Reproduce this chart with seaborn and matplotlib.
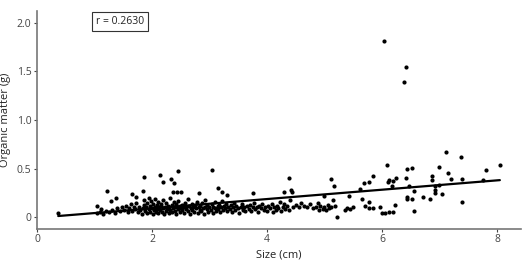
import numpy as np
import pandas as pd
import matplotlib
matplotlib.use("Agg")
import matplotlib.pyplot as plt
import seaborn as sns

# dense cluster (size in cm, organic matter in g)
size_cluster = [
    1.05, 1.10, 1.15, 1.20, 1.25, 1.30, 1.35, 1.40, 1.45, 1.48, 1.12,
    1.52, 1.55, 1.58, 1.60, 1.63, 1.65, 1.68, 1.70, 1.72, 1.75, 1.78, 1.80,
    1.82, 1.84, 1.86, 1.87, 1.88, 1.90, 1.91, 1.92, 1.94, 1.95, 1.96, 1.97, 1.98, 2.00, 2.01, 2.02, 2.03, 2.05, 2.06, 2.07, 2.08, 2.09, 2.10,
    2.11, 2.12, 2.14, 2.15, 2.16, 2.18, 2.19, 2.20, 2.21, 2.22, 2.24, 2.25, 2.26, 2.28, 2.29, 2.30, 2.31, 2.32, 2.34, 2.35, 2.36, 2.38, 2.39,
    2.40, 2.41, 2.42, 2.44, 2.45, 2.46, 2.48, 2.49, 2.50, 2.52, 2.53, 2.55, 2.56, 2.58, 2.59, 2.60, 2.62, 2.63, 2.65, 2.66, 2.68, 2.69,
    2.70, 2.72, 2.73, 2.75, 2.76, 2.78, 2.80, 2.81, 2.83, 2.84, 2.86, 2.87, 2.89, 2.90, 2.92, 2.93, 2.95, 2.96, 2.98,
    3.00, 3.02, 3.04, 3.06, 3.07, 3.09, 3.10, 3.12, 3.14, 3.15, 3.17, 3.19, 3.20, 3.22, 3.24, 3.25, 3.27, 3.29,
    3.31, 3.33, 3.35, 3.37, 3.39, 3.41, 3.43, 3.45, 3.47, 3.50, 3.52, 3.54, 3.56, 3.58, 3.60, 3.62, 3.65, 3.68,
    3.70, 3.72, 3.75, 3.77, 3.80, 3.82, 3.85, 3.87, 3.90, 3.92, 3.95, 3.97, 4.00, 4.02, 4.05, 4.08,
    4.10, 4.12, 4.15, 4.18, 4.20, 4.22, 4.25, 4.28, 4.30, 4.32, 4.35, 4.38, 4.40, 4.45, 4.50, 4.55, 4.60,
    4.65, 4.70, 4.75, 4.80, 4.85, 4.88, 4.90, 4.93, 4.97, 5.00, 5.03, 5.06, 5.08, 5.12, 5.15, 5.18, 5.35, 5.40, 5.45, 5.50,
]
om_cluster = [
    0.04, 0.05, 0.03, 0.06, 0.05, 0.07, 0.04, 0.09, 0.06, 0.11, 0.08,
    0.07, 0.12, 0.05, 0.09, 0.14, 0.06, 0.10, 0.08, 0.15, 0.05, 0.11, 0.07,
    0.03, 0.09, 0.13, 0.18, 0.06, 0.11, 0.04, 0.15, 0.08, 0.20, 0.12, 0.05, 0.17, 0.09, 0.03, 0.14, 0.07, 0.19, 0.11, 0.05, 0.13, 0.08, 0.16,
    0.04, 0.10, 0.07, 0.14, 0.12, 0.05, 0.09, 0.18, 0.03, 0.11, 0.06, 0.15, 0.08, 0.12, 0.04, 0.10, 0.20, 0.07, 0.13, 0.05, 0.09, 0.16, 0.11,
    0.06, 0.14, 0.03, 0.10, 0.08, 0.17, 0.12, 0.05, 0.09, 0.13, 0.07, 0.11, 0.04, 0.15, 0.08, 0.10, 0.06, 0.19, 0.12, 0.03, 0.09, 0.14,
    0.07, 0.11, 0.05, 0.13, 0.09, 0.16, 0.04, 0.10, 0.07, 0.12, 0.06, 0.15, 0.09, 0.03, 0.11, 0.18, 0.08, 0.13, 0.05,
    0.10, 0.07, 0.14, 0.04, 0.11, 0.09, 0.16, 0.06, 0.12, 0.08, 0.13, 0.05, 0.10, 0.17, 0.07, 0.12, 0.09, 0.14,
    0.06, 0.11, 0.08, 0.13, 0.05, 0.10, 0.15, 0.07, 0.12, 0.09, 0.04, 0.11, 0.14, 0.07, 0.10, 0.06, 0.12, 0.08,
    0.13, 0.06, 0.10, 0.15, 0.08, 0.11, 0.05, 0.12, 0.09, 0.14, 0.07, 0.10, 0.06, 0.12, 0.09, 0.14,
    0.05, 0.10, 0.07, 0.12, 0.09, 0.16, 0.06, 0.11, 0.14, 0.08, 0.12, 0.07, 0.18, 0.10, 0.13, 0.11, 0.15,
    0.12, 0.10, 0.14, 0.09, 0.11, 0.15, 0.07, 0.12, 0.08, 0.10, 0.07, 0.13, 0.09, 0.10, 0.18, 0.12, 0.07, 0.09, 0.08, 0.11,
]

# scattered points above the cluster and at the larger sizes
size_sparse = [
    0.37, 1.05, 1.22, 1.37, 1.28, 1.66, 1.73, 1.86, 1.85, 2.14, 2.19, 2.33, 2.38, 2.45, 2.36, 2.43, 2.50,
    3.05, 2.82, 3.15, 3.21, 3.30, 3.76,
    4.39, 4.41, 4.30, 4.44, 5.12, 5.17, 5.00, 5.43, 5.21,
    5.62, 5.69, 5.78, 5.84, 5.66, 5.77, 5.70, 5.77, 5.84, 5.97, 6.00, 6.05, 6.13, 6.20, 6.23,
    6.10, 6.09, 6.13, 6.17, 6.20, 6.25, 6.42, 6.44, 6.52, 6.47, 6.44, 6.44, 6.53, 6.55, 6.56,
    6.71, 6.84, 6.87, 6.87, 6.93, 6.93, 6.93, 7.00, 7.00, 7.05, 7.11, 7.14, 7.20,
    7.38, 7.40, 7.39, 7.81, 7.76, 8.05,
    6.03, 6.42, 6.39,
]
om_sparse = [
    0.04, 0.12, 0.27, 0.20, 0.17, 0.24, 0.21, 0.41, 0.27, 0.43, 0.36, 0.39, 0.35, 0.48, 0.26, 0.26, 0.26,
    0.49, 0.25, 0.30, 0.26, 0.23, 0.25,
    0.40, 0.28, 0.26, 0.26, 0.39, 0.32, 0.22, 0.22, 0.00,
    0.29, 0.35, 0.36, 0.42, 0.19, 0.16, 0.12, 0.09, 0.09, 0.10, 0.04, 0.04, 0.05, 0.05, 0.13,
    0.36, 0.54, 0.38, 0.32, 0.37, 0.40, 0.40, 0.50, 0.51, 0.32, 0.21, 0.19, 0.19, 0.27, 0.06,
    0.21, 0.19, 0.42, 0.38, 0.28, 0.32, 0.25, 0.52, 0.33, 0.24, 0.67, 0.45, 0.39,
    0.62, 0.39, 0.16, 0.49, 0.38, 0.54,
    1.81, 1.54, 1.39,
]

df = pd.DataFrame({
    "size": size_cluster + size_sparse,
    "om": om_cluster + om_sparse,
})

sns.set_style("ticks")
plt.rcParams["font.family"] = ["Open Sans", "DejaVu Sans"]

fig = plt.figure(figsize=(5.28, 2.61), dpi=100)
ax = fig.add_axes([0.070, 0.123, 0.917, 0.835])

sns.regplot(
    data=df, x="size", y="om", ci=None, ax=ax,
    scatter_kws={"s": 9, "color": "black", "linewidths": 0, "alpha": 1},
    line_kws={"color": "black", "lw": 1.6},
)

ax.set_xlim(0, 8.42)
ax.set_ylim(-0.12, 2.12)
ax.set_xticks([0, 2, 4, 6, 8])
ax.set_yticks([0, 0.5, 1.0, 1.5, 2.0])
ax.set_yticklabels(["0", "0.5", "1.0", "1.5", "2.0"])
ax.set_xlabel("Size (cm)", fontsize=8, color="#222222", labelpad=3)
ax.set_ylabel("Organic matter (g)", fontsize=8, color="#222222", labelpad=4)
ax.tick_params(labelsize=7.5, colors="#444444", length=2, width=0.8, pad=2)

sns.despine(ax=ax)
for side in ["left", "bottom"]:
    ax.spines[side].set_color("#777777")
    ax.spines[side].set_linewidth(1.2)

ax.text(1.44, 2.01, "r = 0.2630", fontsize=7.5, ha="center", va="center", color="#222222",
        bbox=dict(boxstyle="square,pad=0.4", facecolor="white", edgecolor="#333333", lw=0.8))

fig.savefig("out.png", dpi=100)
